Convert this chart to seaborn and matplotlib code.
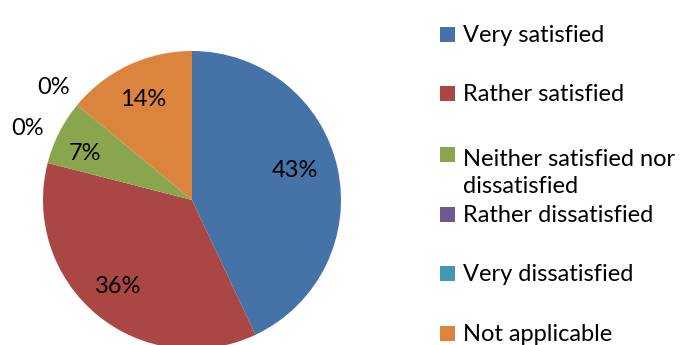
import matplotlib
matplotlib.use("Agg")
import matplotlib.pyplot as plt
from matplotlib.patches import Rectangle
import seaborn as sns

categories = ["Very satisfied", "Rather satisfied", "Neither satisfied nor\ndissatisfied",
              "Rather dissatisfied", "Very dissatisfied", "Not applicable"]
values = [43, 36, 7, 0, 0, 14]
colors = ["#4572A7", "#AA4643", "#89A54E", "#71588F", "#4198AF", "#DB843D"]

sns.set_theme(style="white")
plt.rcParams["font.family"] = ["Lato", "DejaVu Sans"]

W, H = 688, 345
FS = 17
fig = plt.figure(figsize=(W / 100, H / 100), dpi=100)
ax = fig.add_axes([0, 0, 1, 1])

wedges, texts, autotexts = ax.pie(
    values, colors=colors, startangle=90, counterclock=False,
    center=(192, H - 200), radius=149,
    autopct=lambda p: f"{p:.0f}%", pctdistance=0.75,
    wedgeprops=dict(linewidth=0),
    textprops=dict(fontsize=FS, color="black"),
)
# label baselines (image pixel coords, y downward), Excel "best fit" placement
label_pos = [(295, 177), (118, 293), (85, 160), (28, 135), (54, 94), (143, 106)]
for t, (x, y) in zip(autotexts, label_pos):
    t.set_position((x, H - y))
    t.set_ha("center")
    t.set_va("baseline")

# legend (Excel style: fixed slots, square aligned with first line)
leg_baselines = [42, 101, 162, 222, 281, 341]
line_step = 31
sq = 15
for cat, col, yb in zip(categories, colors, leg_baselines):
    ax.add_patch(Rectangle((440, H - yb), sq, sq, facecolor=col, edgecolor="none",
                           clip_on=False))
    nlines = cat.count("\n") + 1
    ax.text(463, H - yb - (nlines - 1) * line_step, cat, fontsize=FS, ha="left",
            va="baseline", color="black", linespacing=1.33)

ax.set_xlim(0, W)
ax.set_ylim(0, H)
ax.set_aspect("equal")
ax.axis("off")

fig.savefig("out.png", dpi=100)
